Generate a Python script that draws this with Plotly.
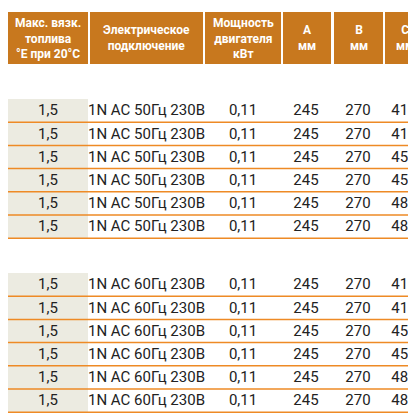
import plotly.graph_objects as go

# table data
headers = ["Макс. вязк.<br>топлива<br>°E при 20°C", "Электрическое<br>подключение",
           "Мощность<br>двигателя<br>кВт", "A<br>мм", "B<br>мм", "C<br>мм"]
viscosity = ["1,5"] * 12
connection = ["1N AC 50Гц 230В"] * 6 + ["1N AC 60Гц 230В"] * 6
power = ["0,11"] * 12
dim_a = ["245"] * 12
dim_b = ["270"] * 12
dim_c = ["410", "410", "455", "455", "480", "480"] * 2

# layout
col_left = [0, 82, 197, 275, 326, 377]
col_right = [80, 195, 273, 323, 375, 420]
text_x = [40, 80, 235, 298, 350, 396]
group_top = [91, 265]
row_h = 23.2
orange = "#C8781E"
line_col = "#EE8A25"
font = "Roboto, sans-serif"

fig = go.Figure()
shapes = []
for l, r in zip(col_left, col_right):
    shapes.append(dict(type="rect", x0=l, x1=r, y0=4, y1=56, fillcolor=orange,
                       line=dict(width=0), layer="below"))

row_y = []
for g, top in enumerate(group_top):
    shapes.append(dict(type="rect", x0=0, x1=80, y0=top, y1=top + 6 * row_h,
                       fillcolor="#ECEBE1", line=dict(width=0), layer="below"))
    for i in range(6):
        y0 = top + i * row_h
        row_y.append(y0 + row_h / 2 + 1)
        shapes.append(dict(type="line", x0=0, x1=420, y0=y0 + row_h, y1=y0 + row_h,
                           line=dict(color=line_col, width=1.5)))

for j, h in enumerate(headers):
    fig.add_annotation(x=(col_left[j] + min(col_right[j], 416)) / 2, y=30, text="<b>" + h + "</b>",
                       showarrow=False, font=dict(family=font, size=12, color="white"))

cols = [viscosity, connection, power, dim_a, dim_b, dim_c]
for j, vals in enumerate(cols):
    fig.add_trace(go.Scatter(
        x=[text_x[j]] * len(vals), y=row_y, mode="text", text=vals,
        textposition="middle right" if j == 1 else "middle center",
        textfont=dict(family=font, size=15, color="#222222"), hoverinfo="skip"))

fig.update_layout(
    width=416, height=416, margin=dict(l=0, r=0, t=0, b=0),
    plot_bgcolor="white", paper_bgcolor="white", showlegend=False, shapes=shapes,
    xaxis=dict(range=[0, 416], visible=False, fixedrange=True),
    yaxis=dict(range=[416, 0], visible=False, fixedrange=True),
)
fig.write_html("out.html")
